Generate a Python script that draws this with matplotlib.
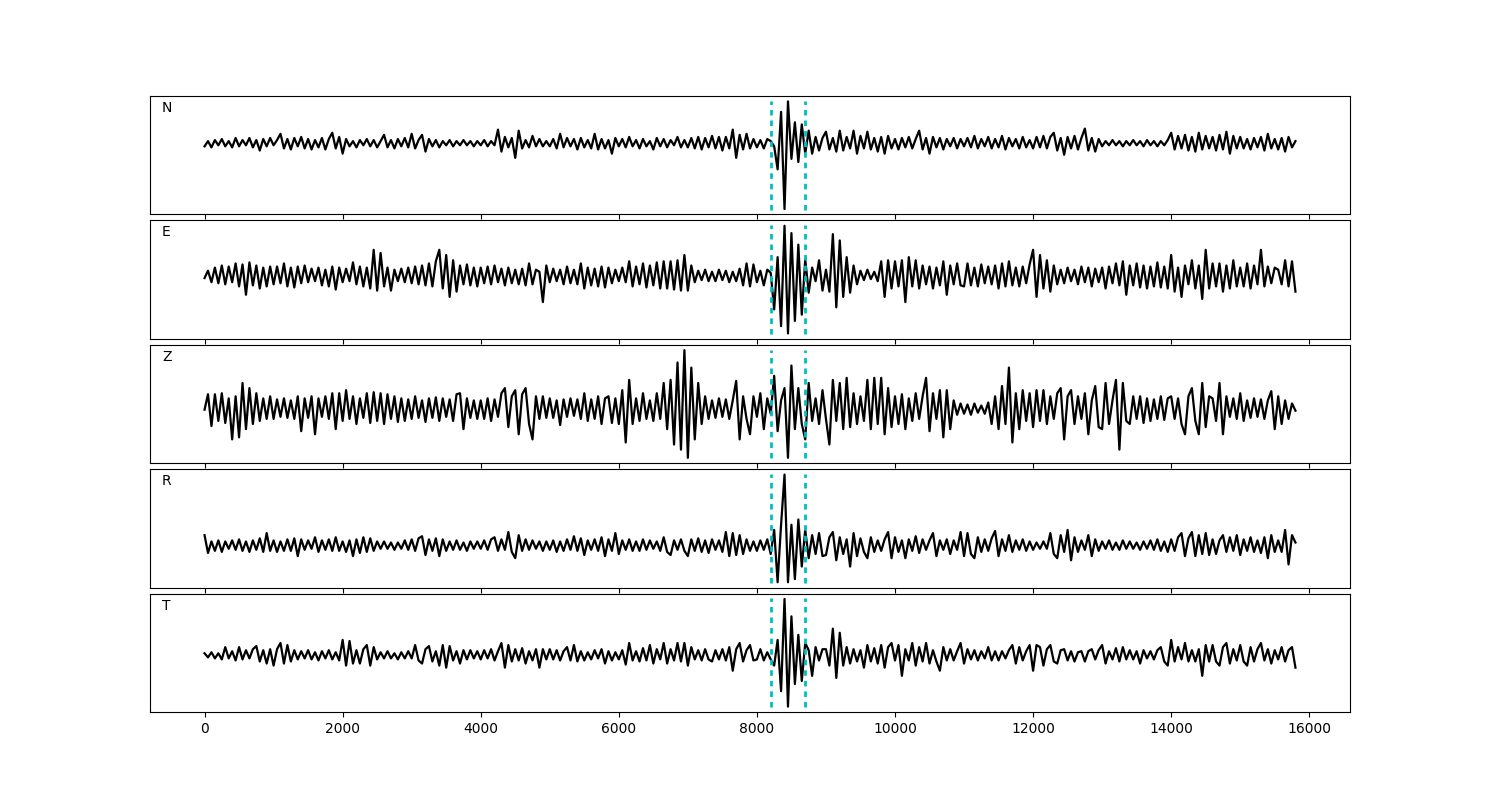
import numpy as np
import matplotlib
matplotlib.use("Agg")
import matplotlib.pyplot as plt

# крок між відліками (відліки)
dt = 50

# моменти вступу хвиль
picks = [8200, 8700]

channels = ["N", "E", "Z", "R", "T"]

# амплітуди трас (по 20 відліків на рядок = 1000 відліків)
n_trace = [
    -3, 2, -4, 3, -2, 4, -3, 2, -4, 5, -3, 3, -2, 5, -4, 3, -7, 4, -3, 5,
    -2, 3, 9, -5, 4, -6, 5, -3, 6, -5, 4, -6, 3, -4, 5, -6, 4, 10, -5, 6,
    -10, 4, -3, 2, -4, 3, -2, 4, -3, 3, -4, 2, 8, -4, 3, -5, 4, -3, 5, -4,
    9, -5, 3, 8, -8, 4, -3, 3, -4, 2, -2, 3, -3, 2, -2, 3, -2, 2, -3, 2,
    -2, 3, -3, 2, -2, 13, -8, 6, -4, 5, -14, 12, -5, 3, -4, 7, -3, 4, -3, 2,
    -3, 4, -5, 9, -4, 5, -3, 4, -6, 5, -4, 3, -5, 9, -6, 4, -5, 3, -10, 5,
    -3, 4, -4, 6, -3, 3, -5, 4, -3, 2, -6, 5, -3, 4, -4, 3, -2, 6, -4, 3,
    -4, 5, -5, 6, -6, 5, -4, 7, -5, 6, -7, 6, -5, 13, -14, 8, -6, 9, -5, 4,
    -4, 3, -5, 4, 2, -3, -25, 30, -63, 40, -15, 20, -18, 18, -10, 12, -10, 6, -7, 5,
    11, -6, 5, -8, 12, -7, 6, -5, 12, -10, 7, -5, 11, -6, 5, -8, 6, -10, 7, -5,
    4, -6, 5, -4, 6, -5, 4, 12, -6, 5, -10, 6, -4, 5, -6, 4, -3, 5, -5, 4,
    -3, 5, -4, 7, -5, 4, -3, 6, -5, 4, -4, 7, -6, 5, -3, 4, -5, 6, -4, 3,
    -5, 6, -4, 7, -5, 6, 10, -7, 5, -11, 6, -5, 7, -6, 5, 14, -7, 5, -8, 4,
    -3, 2, -2, 3, -2, 2, -3, 2, -2, 3, -2, 2, -3, 3, -2, 2, -3, 2, -2, 3,
    10, -6, 7, -5, 8, -7, 6, -8, 10, -6, 7, -5, 6, -7, 8, -6, 11, -10, 7, -5,
    6, -5, 4, -6, 5, -4, 6, -7, 9, -5, 4, -6, 5, -8, 6, -4, 2,
]

e_trace = [
    -2, 5, -6, 8, -7, 10, -8, 9, -6, 12, -10, 11, -18, 13, -9, 10, -12, 8, -10, 9,
    -8, 9, -7, 12, -10, 8, -11, 9, -7, 10, -6, 7, -5, 8, -9, 6, -10, 9, -13, 8,
    -6, 7, -5, 13, -8, 9, -10, 8, -12, 25, -14, 22, -10, 8, -14, 6, -5, 7, -6, 8,
    -7, 9, -8, 10, -9, 12, -10, 14, 25, -12, 20, -20, 15, -15, 10, -8, 11, -9, 8, -10,
    8, -7, 9, -8, 10, -6, 7, -9, 8, -7, 6, -8, 7, -9, 12, -8, 6, 4, -25, 10,
    -6, 7, -5, 6, -8, 9, -7, 6, -8, 12, -12, 8, -9, 7, -10, 9, -11, 8, -7, 6,
    -5, 8, -6, 14, -10, 9, -8, 12, -11, 10, -9, 13, -12, 14, -12, 14, -13, 15, -14, 20,
    -14, 10, -6, 5, -4, 6, -5, 4, -5, 6, -4, 5, -6, 4, -5, 7, -9, 12, -10, 11,
    -6, 5, -9, 6, 3, -32, 18, -48, 48, -55, 41, -43, 30, -37, 16, -16, 8, -5, 15, -14,
    6, -15, 40, -30, 34, -20, 18, -16, 10, -8, 5, -4, 6, -3, 4, -5, 14, -20, 15, -12,
    14, -10, 15, -25, 18, -10, 15, -12, 10, -8, 9, -12, 8, -9, 14, -18, 10, -8, 12, -9,
    -10, 12, -9, 8, -10, 11, -7, 9, -8, 10, -12, 12, -10, 14, -9, 8, -10, 9, -7, 11,
    25, -20, 20, -12, 15, -15, 10, -8, 6, -7, 8, -5, 6, -8, 9, -6, 8, -10, 7, -6,
    8, -12, 9, -7, 12, -9, 14, -18, 10, -9, 12, -11, 10, -12, 9, -10, 13, -11, 9, -12,
    20, -15, 8, -20, 10, -8, 15, -12, 10, -22, 25, -12, 12, -10, 12, -15, 10, -12, 15, -10,
    8, -10, 12, -12, 10, -8, 25, -10, 9, -7, 8, 6, -8, 15, -10, 14, -15,
]

z_trace = [
    -1, 14, -17, 14, -12, 15, -14, 10, -30, 12, -28, 25, -20, 20, -15, 15, -12, 10, -10, 12,
    -10, 9, -8, 10, -9, 8, -10, 12, -22, 10, -9, 12, -25, 10, -8, 12, -10, 15, -20, 15,
    -12, 18, -10, 12, -15, 10, -9, 15, -14, 16, -12, 15, -15, 14, -10, 12, -13, 10, -12, 9,
    -10, 12, -9, 8, -13, 10, -9, 11, -12, 10, -8, 9, -12, 14, 15, -20, 10, -9, 8, -10,
    8, -10, 10, -12, 9, -8, 15, 20, -18, 12, 18, -25, 14, 20, -15, -30, 12, -10, 12, -9,
    10, -9, 8, -16, 9, -8, 10, -7, 9, -10, 15, -12, 9, -10, 12, -15, 10, 12, -14, 10,
    -15, 18, -33, 28, -15, 10, -12, 15, -10, 8, -12, 15, -10, 25, -20, 28, -35, 45, -40, 57,
    -48, 40, -30, 25, -15, 12, -10, 8, -9, 10, -8, 9, -10, 8, 27, -30, 12, -10, -25, 12,
    -8, 15, -20, 10, -5, 32, -22, 8, 20, -48, 42, -20, 20, -15, -30, 25, -12, 10, -15, 18,
    -10, -35, 28, -12, 25, -20, 30, -18, 15, -15, 12, -12, 28, -20, 30, -15, 30, -25, 20, -18,
    12, -15, 14, -20, 10, -12, 15, -10, 12, 30, -22, 15, -10, 18, -28, 18, -20, 8, -6, 5,
    -5, 4, -6, 5, -4, 3, -5, 6, -15, 12, -20, 22, -15, 40, -33, 15, -20, 18, -12, 15,
    -18, 18, -12, 18, -15, 12, -10, 15, 20, -30, 12, 18, -15, 12, -10, 15, -25, 8, 22, -18,
    -20, 25, -15, 8, 28, -40, 25, -12, -15, 12, -10, 12, -14, 10, -12, 9, -10, 12, -11, 10,
    12, -10, 10, -15, -25, 12, 20, -12, -25, 25, -18, 12, 10, -12, 25, -25, 12, -8, 10, -10,
    15, -12, 8, -9, 10, -8, 9, -10, 8, 17, -20, 12, -15, 8, -10, 5, -2,
]

r_trace = [
    10, -7, 4, -5, 5, -6, 4, -3, 5, -4, 6, -5, 4, -6, 5, -4, 7, -6, 12, -5,
    5, -6, 4, -5, 6, -5, 7, -10, 6, -4, 5, -3, 8, -6, 5, -4, 6, -5, 8, -5,
    4, -6, 5, -10, 6, -7, 8, -6, 7, -5, 4, -3, 4, -3, 3, -4, 3, -3, 5, -4,
    6, -5, 7, 9, -9, 6, -5, 7, -10, 6, -5, 4, -4, 5, -4, 3, -5, 4, -3, 4,
    -3, 5, -4, 6, 8, -5, 6, -4, 13, -6, -12, 10, -5, 6, -4, 5, -3, 4, -5, 4,
    -4, 5, -6, 4, -5, 6, -4, 9, -5, 7, -9, 5, -4, 6, -5, 8, -10, 6, -5, 12,
    -8, 5, -4, 6, -5, 4, -5, 6, -4, 5, -3, 4, -5, 8, -6, -9, 5, -4, 6, -5,
    -10, 6, -5, 7, -6, 5, -7, 6, -4, 5, -6, 13, -10, 12, -9, 10, -8, 6, -5, 4,
    -5, 5, -4, 6, -8, 15, -35, 20, 68, -35, 20, -32, 25, -20, 15, -12, 10, -8, 12, -10,
    -9, 8, 13, -14, 8, -8, 6, -20, 12, -10, 7, -6, -12, 8, -6, 5, -5, 6, 13, -12,
    8, -6, 5, -12, 6, -5, 9, -7, 6, -4, 5, 12, -10, 5, -4, 6, -8, 5, -4, 13,
    -10, 12, -8, -12, 8, -6, 6, -5, 7, 14, -10, 6, -5, 10, -6, 5, -4, 6, -5, 4,
    -4, 3, -3, 4, -3, 12, -8, -12, 10, -6, 15, -14, 8, -6, 5, -4, 10, -10, 6, -5,
    4, -3, 5, -4, 3, -4, 5, -3, 4, -3, 3, -4, 4, -3, 5, -4, 6, -5, 4, -6,
    6, -5, 8, 12, -10, 7, 13, -10, 10, -8, 12, -9, 6, -8, 5, 10, -6, 8, -5, 10,
    -9, 6, -5, 8, -6, 5, -7, 8, -12, 10, -6, 5, -6, 15, -18, 10, 3,
]

t_trace = [
    2, -2, 3, -3, 2, -4, 8, -3, 4, -5, 8, -4, 5, -3, 6, 9, -6, 5, -8, 6,
    -10, 6, 12, -8, 10, -6, 5, -4, 4, -3, 5, -4, 3, -5, 4, -3, 5, -4, 3, -5,
    15, -10, 14, -8, 5, -8, 6, 10, -10, 8, -4, 3, -3, 4, -3, 2, -4, 3, -3, 4,
    -3, 10, -5, -8, 6, 9, -6, 4, -10, 10, -12, 9, -5, 4, -8, 5, -4, 5, -3, 4,
    -4, 5, -3, 6, -5, 4, 12, -12, 10, -6, 6, -5, 7, -8, 4, -5, 6, -12, 6, -4,
    6, -4, 5, -5, 4, 8, -5, 10, -6, 4, -5, 3, -4, 5, -3, 6, -8, 4, -5, 3,
    -4, 5, -9, 12, -5, 4, -6, 7, -5, 10, -8, 6, -4, 12, -8, 6, -5, 12, -6, 12,
    -10, 8, -4, 5, -5, 6, -4, -6, 5, -4, 6, -5, 8, -15, 6, 12, -6, 5, 10, -5,
    -4, 6, -5, 3, -4, -10, 15, -35, 55, -50, 38, -28, 20, -25, 12, 5, -20, 8, -5, 6,
    6, -10, 26, -22, 22, -10, 8, -8, 6, -6, 5, -12, 10, -6, 7, -8, 10, -12, 8, 12,
    -5, 10, -20, 6, -5, 12, -10, 8, -6, 12, -8, 5, -6, -15, 8, -5, 6, -5, 4, 12,
    -8, 6, -4, 5, -5, 4, -3, 8, -5, 4, -5, 4, -3, 5, 10, -8, 8, -5, 4, 10,
    -15, 10, 8, -10, 6, 10, -6, -8, 5, 6, -5, 4, -6, 3, 4, -6, 4, 6, -4, 5,
    10, -8, 4, -4, 7, -6, 8, -4, 5, -4, 4, -8, 5, -3, 4, -4, 5, 8, -6, -10,
    15, -6, 8, -4, 12, -6, 5, -6, 6, -20, 10, -6, 10, -6, -10, 8, 12, -8, 6, -5,
    10, -6, -10, 8, -6, 6, 12, -5, 6, -8, 5, -4, 8, -6, 5, 8, -12,
]

traces = [n_trace, e_trace, z_trace, r_trace, t_trace]

# Побудова графіка
fig, axes = plt.subplots(5, 1, sharex=True, figsize=(15, 8))
fig.subplots_adjust(left=0.1, right=0.9, hspace=0.05)

for ax, name, tr in zip(axes, channels, traces):
    x = np.arange(len(tr)) * dt
    ax.plot(x, tr, color="k", lw=1.6)
    for p in picks:
        ax.axvline(p, ymin=0.04, ymax=0.96, color="c", lw=2, dashes=(2, 1.8))
    ax.set_yticks([])
    ax.text(0.01, 0.865, name, transform=ax.transAxes)

fig.savefig("out.png", dpi=100)
